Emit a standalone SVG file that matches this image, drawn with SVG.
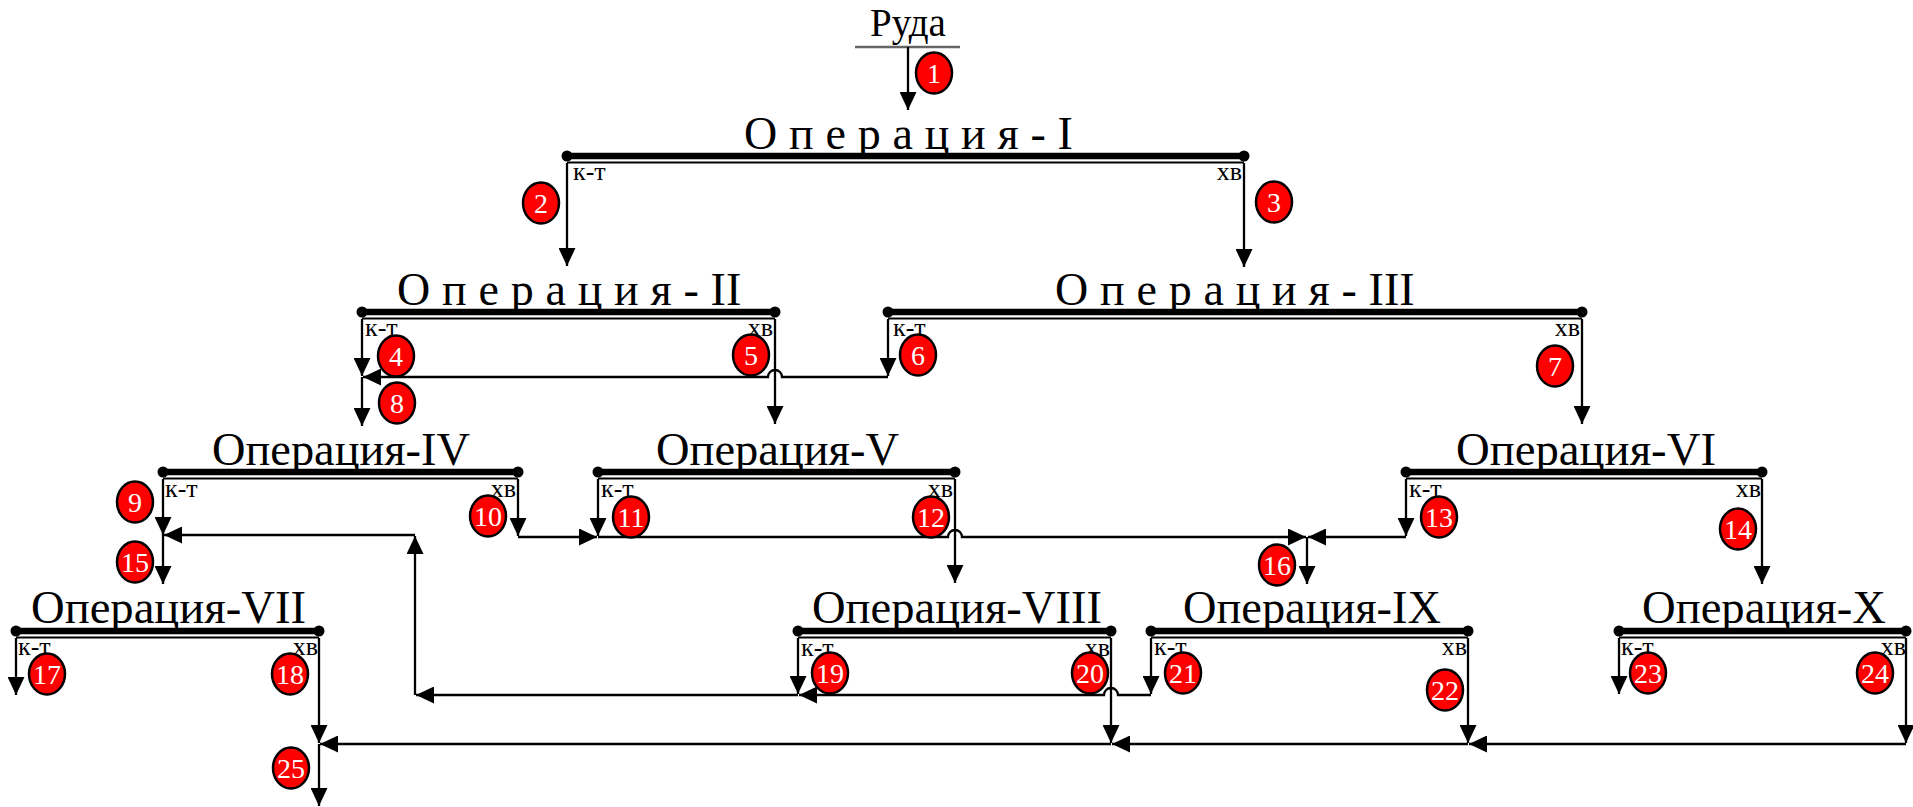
<svg xmlns="http://www.w3.org/2000/svg" width="1913" height="807" viewBox="0 0 1913 807">
<style>
.t{font-family:"Liberation Serif","Times New Roman",serif;font-size:46px;fill:#000}
.sp{letter-spacing:11.8px}
.ns{letter-spacing:0}
.l{font-family:"Liberation Serif","Times New Roman",serif;font-size:26px;fill:#000}
.le{text-anchor:end}
.bar{stroke:#000;stroke-width:6.5;fill:none}
.thin{stroke:#000;stroke-width:2;fill:none}
.cap{fill:#000}
.c{fill:none;stroke:#000;stroke-width:2.3;marker-end:url(#ah)}
.b ellipse{fill:#ff0000;stroke:#000;stroke-width:2.5}
.b text{font-family:"Liberation Serif","Times New Roman",serif;font-size:28px;fill:#fff;text-anchor:middle}
</style>
<defs>
<marker id="ah" viewBox="0 0 18 17" markerWidth="18" markerHeight="17" refX="18" refY="8.5" orient="auto" markerUnits="userSpaceOnUse"><path d="M0,0 L18,8.5 L0,17 z" fill="#000"/></marker>
</defs>
<rect width="1913" height="807" fill="#fff"/>

<g id="ore">
<text x="908" y="36" text-anchor="middle" style="font-family:'Liberation Serif','Times New Roman',serif;font-size:39px">Руда</text>
<line x1="855" y1="47" x2="960" y2="47" stroke="#666" stroke-width="2.5"/>
</g>

<g id="op1">
<text class="t sp" x="744" y="149">Операция-I</text>
<line class="bar" x1="567" y1="156" x2="1244" y2="156"/><circle class="cap" cx="567" cy="156" r="5.5"/><circle class="cap" cx="1244" cy="156" r="5.5"/>
<line class="thin" x1="567" y1="162.5" x2="1244" y2="162.5"/>
<text class="l" x="573" y="180">к-т</text><text class="l le" x="1242" y="180">хв</text>
</g>

<g id="op2">
<text class="t sp" x="397" y="305">Операция-<tspan class="ns">II</tspan></text>
<line class="bar" x1="362" y1="312" x2="775" y2="312"/><circle class="cap" cx="362" cy="312" r="5.5"/><circle class="cap" cx="775" cy="312" r="5.5"/>
<line class="thin" x1="362" y1="318.5" x2="775" y2="318.5"/>
<text class="l" x="365" y="336">к-т</text><text class="l le" x="773" y="336">хв</text>
</g>

<g id="op3">
<text class="t sp" x="1055" y="305">Операция-<tspan class="ns">III</tspan></text>
<line class="bar" x1="888" y1="312" x2="1582" y2="312"/><circle class="cap" cx="888" cy="312" r="5.5"/><circle class="cap" cx="1582" cy="312" r="5.5"/>
<line class="thin" x1="888" y1="318.5" x2="1582" y2="318.5"/>
<text class="l" x="893" y="336">к-т</text><text class="l le" x="1580" y="336">хв</text>
</g>

<g id="op4">
<text class="t" x="212" y="465" textLength="258" lengthAdjust="spacingAndGlyphs">Операция-IV</text>
<line class="bar" x1="163" y1="472" x2="518" y2="472"/><circle class="cap" cx="163" cy="472" r="5.5"/><circle class="cap" cx="518" cy="472" r="5.5"/>
<line class="thin" x1="163" y1="478.5" x2="518" y2="478.5"/>
<text class="l" x="165" y="497">к-т</text><text class="l le" x="516" y="497">хв</text>
</g>

<g id="op5">
<text class="t" x="656" y="465" textLength="243" lengthAdjust="spacingAndGlyphs">Операция-V</text>
<line class="bar" x1="598" y1="472" x2="955" y2="472"/><circle class="cap" cx="598" cy="472" r="5.5"/><circle class="cap" cx="955" cy="472" r="5.5"/>
<line class="thin" x1="598" y1="478.5" x2="955" y2="478.5"/>
<text class="l" x="601" y="497">к-т</text><text class="l le" x="953" y="497">хв</text>
</g>

<g id="op6">
<text class="t" x="1456" y="465" textLength="260" lengthAdjust="spacingAndGlyphs">Операция-VI</text>
<line class="bar" x1="1406" y1="472" x2="1762" y2="472"/><circle class="cap" cx="1406" cy="472" r="5.5"/><circle class="cap" cx="1762" cy="472" r="5.5"/>
<line class="thin" x1="1406" y1="478.5" x2="1762" y2="478.5"/>
<text class="l" x="1409" y="497">к-т</text><text class="l le" x="1761" y="497">хв</text>
</g>

<g id="op7">
<text class="t" x="31" y="623" textLength="275" lengthAdjust="spacingAndGlyphs">Операция-VII</text>
<line class="bar" x1="16" y1="631" x2="319" y2="631"/><circle class="cap" cx="16" cy="631" r="5.5"/><circle class="cap" cx="319" cy="631" r="5.5"/>
<line class="thin" x1="16" y1="637.5" x2="319" y2="637.5"/>
<text class="l" x="18" y="655">к-т</text><text class="l le" x="318" y="655">хв</text>
</g>

<g id="op8">
<text class="t" x="812" y="623" textLength="290" lengthAdjust="spacingAndGlyphs">Операция-VIII</text>
<line class="bar" x1="798" y1="631" x2="1111" y2="631"/><circle class="cap" cx="798" cy="631" r="5.5"/><circle class="cap" cx="1111" cy="631" r="5.5"/>
<line class="thin" x1="798" y1="637.5" x2="1111" y2="637.5"/>
<text class="l" x="801" y="656">к-т</text><text class="l le" x="1110" y="656">хв</text>
</g>

<g id="op9">
<text class="t" x="1183" y="623" textLength="258" lengthAdjust="spacingAndGlyphs">Операция-IX</text>
<line class="bar" x1="1151" y1="631" x2="1468" y2="631"/><circle class="cap" cx="1151" cy="631" r="5.5"/><circle class="cap" cx="1468" cy="631" r="5.5"/>
<line class="thin" x1="1151" y1="637.5" x2="1468" y2="637.5"/>
<text class="l" x="1154" y="655">к-т</text><text class="l le" x="1467" y="655">хв</text>
</g>

<g id="op10">
<text class="t" x="1642" y="623" textLength="244" lengthAdjust="spacingAndGlyphs">Операция-X</text>
<line class="bar" x1="1619" y1="631" x2="1906" y2="631"/><circle class="cap" cx="1619" cy="631" r="5.5"/><circle class="cap" cx="1906" cy="631" r="5.5"/>
<line class="thin" x1="1619" y1="637.5" x2="1906" y2="637.5"/>
<text class="l" x="1621" y="655">к-т</text><text class="l le" x="1906" y="655">хв</text>
</g>

<g id="connectors">
<path class="c" d="M908,47 V110"/>
<path class="c" d="M567,163 V266"/>
<path class="c" d="M1244,163 V267"/>
<path class="c" d="M362,319 V376"/>
<path class="c" d="M888,319 V376"/>
<path class="c" d="M888,377 H782 A7,7 0 0 0 768,377 H363"/>
<path class="c" d="M775,319 V424"/>
<path class="c" d="M362,377 V426"/>
<path class="c" d="M1582,319 V424"/>
<path class="c" d="M163,479 V535"/>
<path class="c" d="M518,479 V536"/>
<path class="c" d="M518,537 H597"/>
<path class="c" d="M598,479 V536"/>
<path class="c" d="M598,537 H948 A7,7 0 0 1 962,537 H1306"/>
<path class="c" d="M955,479 V583"/>
<path class="c" d="M1406,479 V536"/>
<path class="c" d="M1406,537 H1308"/>
<path class="c" d="M1307,537 V584"/>
<path class="c" d="M1762,479 V584"/>
<path class="c" d="M16,638 V695"/>
<path class="c" d="M319,638 V743"/>
<path class="c" d="M798,638 V694"/>
<path class="c" d="M1111,638 V743"/>
<path class="c" d="M1151,638 V694"/>
<path class="c" d="M1468,638 V743"/>
<path class="c" d="M1619,638 V694"/>
<path class="c" d="M1906,638 V743"/>
<path class="c" d="M1151,695 H1118 A7,7 0 0 0 1104,695 H799"/>
<path class="c" d="M798,695 H416"/>
<path class="c" d="M415,695 V536"/>
<path class="c" d="M415,535 H164"/>
<path class="c" d="M163,535 V584"/>
<path class="c" d="M1906,744 H1469"/>
<path class="c" d="M1468,744 H1112"/>
<path class="c" d="M1111,744 H320"/>
<path class="c" d="M319,744 V806"/>
</g>

<g id="s1" class="b"><ellipse cx="934" cy="73" rx="18" ry="20.5"/><text x="934" y="83">1</text></g>
<g id="s2" class="b"><ellipse cx="541" cy="203" rx="18" ry="20.5"/><text x="541" y="213">2</text></g>
<g id="s3" class="b"><ellipse cx="1274" cy="202" rx="18" ry="20.5"/><text x="1274" y="212">3</text></g>
<g id="s4" class="b"><ellipse cx="396" cy="356" rx="18" ry="20.5"/><text x="396" y="366">4</text></g>
<g id="s5" class="b"><ellipse cx="751" cy="355" rx="18" ry="20.5"/><text x="751" y="365">5</text></g>
<g id="s6" class="b"><ellipse cx="918" cy="355" rx="18" ry="20.5"/><text x="918" y="365">6</text></g>
<g id="s7" class="b"><ellipse cx="1555" cy="366" rx="18" ry="20.5"/><text x="1555" y="376">7</text></g>
<g id="s8" class="b"><ellipse cx="397" cy="403" rx="18" ry="20.5"/><text x="397" y="413">8</text></g>
<g id="s9" class="b"><ellipse cx="135" cy="502" rx="18" ry="20.5"/><text x="135" y="512">9</text></g>
<g id="s10" class="b"><ellipse cx="488" cy="516" rx="18" ry="20.5"/><text x="488" y="526">10</text></g>
<g id="s11" class="b"><ellipse cx="631" cy="517" rx="18" ry="20.5"/><text x="631" y="527">11</text></g>
<g id="s12" class="b"><ellipse cx="931" cy="517" rx="18" ry="20.5"/><text x="931" y="527">12</text></g>
<g id="s13" class="b"><ellipse cx="1439" cy="517" rx="18" ry="20.5"/><text x="1439" y="527">13</text></g>
<g id="s14" class="b"><ellipse cx="1738" cy="529" rx="18" ry="20.5"/><text x="1738" y="539">14</text></g>
<g id="s15" class="b"><ellipse cx="135" cy="562" rx="18" ry="20.5"/><text x="135" y="572">15</text></g>
<g id="s16" class="b"><ellipse cx="1277" cy="565" rx="18" ry="20.5"/><text x="1277" y="575">16</text></g>
<g id="s17" class="b"><ellipse cx="47" cy="674" rx="18" ry="20.5"/><text x="47" y="684">17</text></g>
<g id="s18" class="b"><ellipse cx="290" cy="674" rx="18" ry="20.5"/><text x="290" y="684">18</text></g>
<g id="s19" class="b"><ellipse cx="830" cy="673" rx="18" ry="20.5"/><text x="830" y="683">19</text></g>
<g id="s20" class="b"><ellipse cx="1090" cy="673" rx="18" ry="20.5"/><text x="1090" y="683">20</text></g>
<g id="s21" class="b"><ellipse cx="1183" cy="673" rx="18" ry="20.5"/><text x="1183" y="683">21</text></g>
<g id="s22" class="b"><ellipse cx="1445" cy="690" rx="18" ry="20.5"/><text x="1445" y="700">22</text></g>
<g id="s23" class="b"><ellipse cx="1648" cy="673" rx="18" ry="20.5"/><text x="1648" y="683">23</text></g>
<g id="s24" class="b"><ellipse cx="1875" cy="673" rx="18" ry="20.5"/><text x="1875" y="683">24</text></g>
<g id="s25" class="b"><ellipse cx="291" cy="768" rx="18" ry="20.5"/><text x="291" y="778">25</text></g>
</svg>
